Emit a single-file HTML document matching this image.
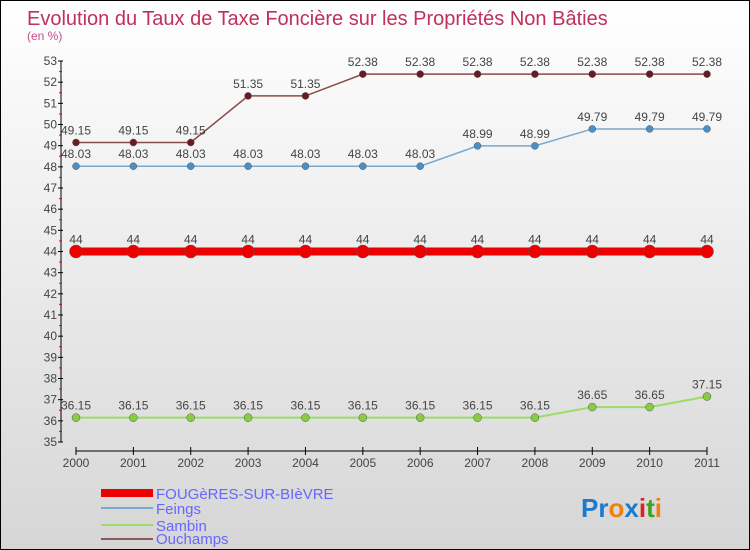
<!DOCTYPE html>
<html><head><meta charset="utf-8"><style>
body{margin:0}
#c{width:750px;height:550px;position:relative;box-sizing:border-box;border:1px solid #000;background:linear-gradient(#fff,#d6d6d6);font-family:"Liberation Sans",sans-serif;overflow:hidden}
svg text{font-family:"Liberation Sans",sans-serif}
</style></head><body>
<div id="c">
<svg id="s" width="750" height="550">
<text x="26" y="24" font-size="20" fill="#c0305a">Evolution du Taux de Taxe Foncière sur les Propriétés Non Bâties</text>
<text x="26" y="39" font-size="12" fill="#c0508a">(en %)</text>
<g id="axes"></g><g id="series"></g>
<g>
<rect x="100" y="488" width="52" height="8" fill="#e00"/>
<text x="155" y="498" font-size="15" fill="#66f">FOUGèRES-SUR-BIèVRE</text>
<rect x="100" y="506" width="52" height="2" fill="#7aa8cc"/>
<text x="155" y="513" font-size="15" fill="#66f">Feings</text>
<rect x="100" y="523" width="52" height="2" fill="#99dd66"/>
<text x="155" y="530" font-size="15" fill="#66f">Sambin</text>
<rect x="100" y="537" width="52" height="2" fill="#8a5a5a"/>
<text x="155" y="543" font-size="15" fill="#66f">Ouchamps</text>
</g>
<text x="580" y="516" font-size="26" font-weight="bold"><tspan fill="#1a7ad0">Pr</tspan><tspan fill="#f08010">o</tspan><tspan fill="#1a7ad0">x</tspan><tspan fill="#e02020">i</tspan><tspan fill="#40a020">t</tspan><tspan fill="#f08010">i</tspan></text>
</svg></div>
<script>
const years=[2000,2001,2002,2003,2004,2005,2006,2007,2008,2009,2010,2011];
const fougeres=[44,44,44,44,44,44,44,44,44,44,44,44];
const feings=[48.03,48.03,48.03,48.03,48.03,48.03,48.03,48.99,48.99,49.79,49.79,49.79];
const sambin=[36.15,36.15,36.15,36.15,36.15,36.15,36.15,36.15,36.15,36.65,36.65,37.15];
const ouchamps=[49.15,49.15,49.15,51.35,51.35,52.38,52.38,52.38,52.38,52.38,52.38,52.38];
const yTicks=[35,36,37,38,39,40,41,42,43,44,45,46,47,48,49,50,51,52,53];
const NS="http://www.w3.org/2000/svg";
const X=i=>75+i*(706-75)/(years.length-1);
const Y=v=>441-(v-35)*(381/18);
function mk(t,a,p){const e=document.createElementNS(NS,t);for(const k in a)e.setAttribute(k,a[k]);p.appendChild(e);return e;}
const ax=document.getElementById('axes');
let e=mk('line',{x1:60,y1:Y(53),x2:60,y2:Y(35),stroke:'#000'},ax);


e=mk('line',{x1:X(0),y1:450,x2:X(11),y2:450,stroke:'#000'},ax);


yTicks.forEach(v=>{
 mk('line',{x1:57,x2:62,y1:Y(v),y2:Y(v),stroke:'#000'},ax);
 if(v<53)mk('line',{x1:58,x2:61,y1:Y(v+0.5),y2:Y(v+0.5),stroke:'#e00'},ax);
 const t=mk('text',{x:56,y:Y(v)+4,'font-size':12,fill:'#444','text-anchor':'end'},ax);t.textContent=v;
 
 
});
years.forEach((y,i)=>{
 mk('line',{x1:X(i),x2:X(i),y1:446,y2:454,stroke:'#000'},ax);
 const t=mk('text',{x:X(i),y:466,'font-size':12,fill:'#444','text-anchor':'middle'},ax);t.textContent=y;
 
 
});
const sg=document.getElementById('series');
function series(name,vals,color,dot,w,r){
 const g=mk('g',{},sg);
 
 
 mk('polyline',{points:vals.map((v,i)=>X(i)+','+Y(v)).join(' '),fill:'none',stroke:color,'stroke-width':w},g);
 vals.forEach((v,i)=>{
  const c=mk('circle',{cx:X(i),cy:Y(v),r:r,fill:dot,stroke:'#555','stroke-width':0.5},g);
  
  
  const t=mk('text',{x:X(i),y:Y(v)-8,'font-size':12,fill:'#444','text-anchor':'middle'},g);t.textContent=v;
  
  
 });
}
series('sambin',sambin,'#99dd66','#88cc44',2,4);
series('feings',feings,'#7aa8cc','#4a90c8',1.5,3.5);
series('ouchamps',ouchamps,'#8a4a4a','#6a1a20',1.5,3.5);
series('fougeres',fougeres,'#e00','#e00',8,6.5);
</script>
</body></html>
